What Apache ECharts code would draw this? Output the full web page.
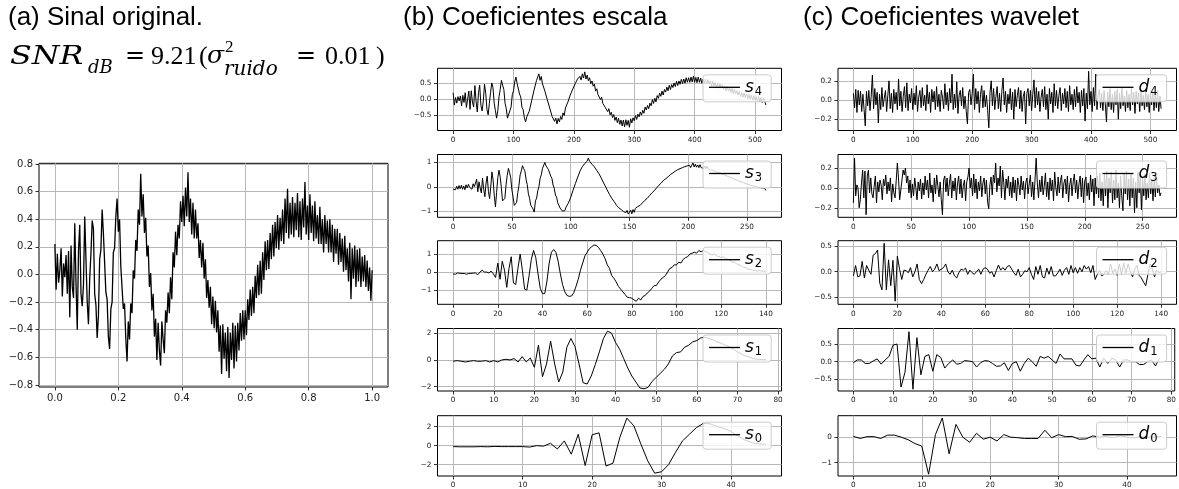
<!DOCTYPE html>
<html><head><meta charset="utf-8">
<script src="https://cdn.jsdelivr.net/npm/echarts@6/dist/echarts.min.js"></script>
<style>html,body{margin:0;padding:0;background:#fff}#c{width:1179px;height:489px}</style>
</head><body><div id="c"></div>
<script>
// ---------- data ----------
const signalValues = [
0.22,-0.11,0.15,-0.06,0.03,0.19,-0.16,0.08,-0.02,0.14,
-0.14,0.17,-0.31,0.21,-0.09,-0.17,0.37,-0.07,-0.4,0.17,
0.36,-0.14,-0.23,-0.07,0.42,0.11,-0.2,-0.36,-0.03,0.15,
0.39,0.33,-0.14,-0.22,-0.46,-0.3,0.11,0.18,0.47,0.3,
0.31,-0.13,-0.18,-0.45,-0.54,-0.25,-0.2,0.16,0.19,0.42,
0.55,0.31,0.4,0.06,0.06,-0.25,-0.21,-0.46,-0.63,-0.34,
-0.47,-0.21,-0.28,0.03,-0.03,0.25,0.17,0.47,0.36,0.73,
0.42,0.58,0.3,0.41,0.13,0.21,-0.09,0.01,-0.26,-0.14,
-0.45,-0.32,-0.62,-0.35,-0.55,-0.66,-0.34,-0.47,-0.57,-0.26,
-0.35,-0.13,-0.28,-0.02,-0.18,0.16,0.05,0.31,0.14,0.36,
0.26,0.53,0.38,0.57,0.35,0.63,0.42,0.74,0.38,0.55,
0.29,0.52,0.26,0.47,0.26,0.37,0.12,0.25,0.05,0.23,
-0.03,0.11,-0.17,-0.04,-0.24,-0.09,-0.36,-0.16,-0.39,-0.19,
-0.42,-0.26,-0.56,-0.37,-0.72,-0.36,-0.61,-0.42,-0.7,-0.38,
-0.75,-0.42,-0.62,-0.35,-0.68,-0.37,-0.63,-0.35,-0.55,-0.28,
-0.48,-0.26,-0.47,-0.26,-0.44,-0.18,-0.33,-0.11,-0.3,-0.09,
-0.28,-0.01,-0.17,0.07,-0.15,0.1,-0.14,0.16,-0.04,0.24,
0.03,0.25,0.04,0.3,0.11,0.36,0.13,0.38,0.19,0.43,
0.18,0.41,0.24,0.47,0.22,0.55,0.3,0.62,0.26,0.52,
0.29,0.56,0.27,0.52,0.32,0.59,0.27,0.53,0.25,0.55,
0.34,0.67,0.29,0.5,0.25,0.58,0.3,0.5,0.24,0.53,
0.26,0.43,0.22,0.49,0.22,0.4,0.16,0.43,0.22,0.39,
0.16,0.4,0.16,0.36,0.09,0.33,0.15,0.33,0.07,0.3,
0.09,0.26,0.02,0.28,0.03,0.19,-0.05,0.23,-0.18,0.19,
-0.03,0.21,-0.09,0.18,-0.05,0.19,-0.09,0.13,-0.05,0.14,
-0.09,0.1,-0.12,0.05,-0.19,0.03];
const signalTimeEnd = 1.0;

// scale coefficients s4 (every 2nd coefficient), s3, s2, s1, s0
const s4Values = [
0.2,-0.18,0.05,-0.12,0.08,-0.05,0.1,-0.2,0.12,-0.1,
0.2,-0.25,-0.22,0.25,-0.31,0.26,-0.09,-0.24,0.42,-0.06,
-0.39,0.2,0.43,-0.19,-0.36,-0.05,0.46,0.18,-0.31,-0.48,
-0.12,0.21,0.5,0.36,-0.12,-0.35,-0.58,-0.35,0.08,0.3,
0.58,0.43,0.3,-0.12,-0.29,-0.58,-0.62,-0.35,-0.24,0.14,
0.26,0.53,0.68,0.48,0.5,0.16,0.07,-0.25,-0.32,-0.57,
-0.7,-0.54,-0.6,-0.37,-0.35,-0.05,0.0,0.28,0.31,0.57,
0.54,0.78,0.58,0.7,0.47,0.5,0.25,0.25,-0.02,-0.02,
-0.27,-0.26,-0.53,-0.48,-0.68,-0.58,-0.76,-0.59,-0.7,-0.53,
-0.62,-0.42,-0.5,-0.27,-0.3,-0.09,-0.09,0.13,0.11,0.31,
0.27,0.47,0.43,0.62,0.56,0.7,0.59,0.78,0.65,0.84,
0.62,0.74,0.57,0.66,0.48,0.56,0.4,0.47,0.25,0.32,
0.14,0.2,-0.01,0.06,-0.13,-0.08,-0.25,-0.19,-0.38,-0.29,
-0.48,-0.4,-0.56,-0.47,-0.65,-0.55,-0.72,-0.59,-0.77,-0.64,
-0.82,-0.64,-0.85,-0.63,-0.8,-0.65,-0.86,-0.6,-0.73,-0.57,
-0.66,-0.5,-0.62,-0.46,-0.54,-0.39,-0.49,-0.34,-0.43,-0.24,
-0.33,-0.19,-0.29,-0.12,-0.2,-0.01,-0.13,0.03,-0.08,0.11,
0.03,0.19,0.09,0.25,0.13,0.3,0.22,0.37,0.26,0.43,
0.3,0.45,0.36,0.5,0.39,0.55,0.42,0.56,0.46,0.61,
0.48,0.62,0.49,0.66,0.52,0.66,0.52,0.68,0.53,0.71,
0.52,0.67,0.51,0.68,0.52,0.65,0.49,0.62,0.47,0.61,
0.47,0.6,0.46,0.56,0.41,0.55,0.41,0.51,0.38,0.49,
0.34,0.48,0.34,0.44,0.3,0.4,0.26,0.39,0.25,0.35,
0.21,0.33,0.17,0.31,0.17,0.26,0.13,0.24,0.09,0.21,
0.06,0.19,0.05,0.16,0.02,0.15,0.01,0.12,-0.03,0.11,
-0.03,0.08,-0.06,0.08,-0.08,0.05,-0.1,0.03,-0.05,-0.18];
const s4Step = 2;
const s3Values = [
-0.1,-0.05,-0.12,0.02,-0.1,0.05,-0.08,0.06,-0.1,0.03,
-0.12,0.08,-0.05,0.1,-0.02,0.06,-0.1,0.12,0.0,0.15,
0.3,-0.2,0.2,-0.05,-0.25,0.35,-0.1,-0.4,0.15,0.43,
-0.18,-0.48,-0.01,0.6,0.27,-0.36,-0.81,-0.22,0.37,0.67,
0.4,-0.03,-0.57,-0.62,-0.47,0.08,0.45,0.74,0.58,0.36,
-0.13,-0.42,-0.75,-0.71,-0.63,-0.23,0.06,0.48,0.64,0.85,
0.73,0.64,0.31,0.09,-0.28,-0.46,-0.74,-0.78,-0.9,-1.02,
-0.57,-0.46,-0.16,0.01,0.34,0.48,0.74,0.77,0.98,0.84,
0.89,0.7,0.66,0.43,0.34,0.07,-0.06,-0.33,-0.42,-0.65,
-0.68,-0.86,-0.86,-0.98,-0.91,-0.96,-0.82,-0.82,-0.66,-0.64,
-0.43,-0.37,-0.14,-0.08,0.13,0.18,0.39,0.44,0.64,0.66,
0.82,0.8,0.94,0.91,1.03,1.16,1.03,1.05,0.91,0.95,
0.81,0.82,0.67,0.69,0.53,0.53,0.35,0.33,0.15,0.15,
-0.02,-0.13,-0.13,-0.31,-0.32,-0.47,-0.45,-0.6,-0.6,-0.75,
-0.73,-0.85,-0.8,-0.92,-0.88,-1.0,-0.94,-1.04,-0.95,-1.1,
-1.03,-0.94,-1.09,-0.92,-1.03,-0.87,-0.93,-0.8,-0.86,-0.75,
-0.79,-0.65,-0.68,-0.55,-0.59,-0.47,-0.51,-0.36,-0.38,-0.25,
-0.29,-0.16,-0.19,-0.05,-0.07,0.06,0.02,0.15,0.11,0.26,
0.22,0.33,0.29,0.41,0.38,0.5,0.46,0.56,0.51,0.63,
0.57,0.69,0.63,0.73,0.66,0.77,0.71,0.81,0.74,0.84,
0.77,0.87,0.77,0.87,0.96,0.8,0.91,0.79,0.88,0.77,
0.89,0.77,0.85,0.74,0.83,0.73,0.83,0.72,0.79,0.68,
0.75,0.66,0.73,0.61,0.69,0.58,0.66,0.55,0.62,0.51,
0.59,0.48,0.54,0.43,0.5,0.39,0.47,0.36,0.42,0.31,
0.39,0.28,0.34,0.23,0.31,0.2,0.26,0.16,0.23,0.13,
0.2,0.09,0.16,0.07,0.14,0.03,0.11,0.02,0.09,-0.02,
0.06,-0.03,0.04,-0.05,0.02,-0.06,-0.15];
const s2Values = [
-0.1,-0.12,-0.05,-0.07,-0.08,-0.08,-0.12,-0.08,-0.07,-0.06,
-0.05,-0.15,0.0,0.1,0.0,0.0,-0.05,0.05,-0.1,-0.3,
0.5,-0.4,0.6,0.1,-0.85,0.2,0.85,-0.6,-0.7,0.2,
1.0,0.1,-0.95,-1.0,-0.2,0.7,1.2,0.8,-0.1,-0.9,
-1.2,-1.2,-0.5,0.5,1.1,1.25,1.1,0.6,-0.1,-0.7,
-1.1,-1.3,-1.35,-1.33,-1.15,-0.8,-0.4,0.1,0.5,0.9,
1.1,1.3,1.4,1.5,1.48,1.38,1.2,1.0,0.75,0.4,
0.2,-0.2,-0.35,-0.55,-0.8,-0.95,-1.1,-1.25,-1.4,-1.42,
-1.45,-1.55,-1.62,-1.45,-1.55,-1.35,-1.3,-1.15,-1.05,-0.9,
-0.75,-0.75,-0.55,-0.4,-0.3,-0.2,0.0,0.2,0.25,0.4,
0.4,0.55,0.5,0.7,0.8,0.85,1.0,1.05,1.1,1.05,
1.2,1.12,1.2,1.12,1.1,1.0,0.95,1.0,0.9,0.85,
0.8,0.85,0.75,0.7,0.65,0.55,0.55,0.45,0.4,0.35,
0.25,0.25,0.15,0.15,0.1,0.1,0.05,0.08,0.05,0.05,0.05];
const s1Values = [
-0.1,-0.05,-0.1,-0.15,-0.1,-0.05,-0.1,-0.1,-0.05,-0.15,
-0.05,-0.15,0.0,0.05,0.0,0.1,-0.15,0.25,-0.15,0.15,
-0.55,1.1,-1.25,-0.3,1.4,-0.3,-1.65,-0.9,0.95,1.6,
1.0,-0.3,-1.7,-1.8,-1.2,-0.35,0.6,1.6,2.15,2.0,
1.3,0.8,0.1,-0.6,-1.2,-1.65,-2.1,-2.15,-2.05,-1.6,
-1.3,-1.0,-0.7,-0.3,0.3,0.55,0.6,0.95,1.1,1.35,
1.45,1.65,1.7,1.6,1.5,1.35,1.25,1.1,1.0,0.8,
0.6,0.45,0.3,0.2,0.1,0.05,0.03,0.02];
const s0Values = [
-0.1,-0.12,-0.12,-0.12,-0.1,-0.12,-0.08,-0.1,-0.1,-0.1,
-0.1,-0.15,0.0,-0.05,0.25,-0.35,0.5,-0.9,1.2,-2.1,
1.15,1.35,-2.15,-1.85,0.9,2.9,2.1,0.2,-1.6,-2.9,
-2.75,-2.0,-0.7,0.5,1.2,1.9,2.35,2.3,2.0,1.8,
1.5,1.0,0.6,0.3,0.2,0.15];

// wavelet coefficients d4 (every 2nd coefficient), d3, d2, d1, d0
const d4Values = [
0.07,-0.08,0.11,-0.13,0.1,-0.05,0.09,-0.12,0.06,-0.1,
-0.27,0.09,-0.06,0.1,-0.11,0.04,0.26,-0.09,0.12,-0.05,
0.08,-0.24,0.06,-0.1,0.13,-0.07,0.02,0.1,-0.12,0.05,
0.2,-0.09,0.07,-0.13,0.11,-0.04,0.08,-0.1,0.22,-0.06,
0.09,-0.12,0.04,0.14,-0.08,0.18,-0.11,0.06,-0.03,0.12,
-0.1,0.07,-0.05,0.15,-0.12,0.03,0.1,-0.08,0.13,-0.06,
0.05,-0.11,0.16,-0.04,0.08,-0.13,0.11,-0.02,0.09,-0.1,
0.14,-0.07,0.06,-0.12,0.1,0.03,-0.09,0.17,-0.05,0.08,
-0.11,0.12,-0.03,0.27,-0.1,0.06,-0.08,0.19,-0.14,0.05,
0.1,-0.06,0.13,-0.09,0.04,-0.12,-0.25,0.08,0.11,-0.05,
0.07,0.27,-0.1,0.12,-0.04,0.09,-0.13,0.06,0.15,-0.08,
0.1,-0.07,0.05,-0.11,-0.29,0.08,0.2,-0.06,0.12,-0.1,
0.04,0.14,-0.09,0.07,-0.12,0.1,0.23,-0.05,0.09,-0.13,
0.06,-0.04,0.12,-0.1,0.08,-0.2,0.11,-0.07,0.05,0.13,
-0.09,0.1,-0.12,0.04,0.09,-0.25,0.07,0.12,-0.06,0.1,
-0.11,0.06,0.21,-0.08,0.13,-0.05,0.09,-0.12,0.03,0.11,
-0.07,0.14,-0.1,0.06,-0.2,0.12,-0.04,0.08,-0.13,0.17,
-0.06,0.1,-0.09,0.05,0.13,-0.11,0.07,-0.04,0.12,-0.08,
0.09,-0.12,0.15,-0.05,0.06,-0.1,0.11,-0.07,0.14,-0.03,
0.08,-0.13,0.1,-0.06,0.12,-0.22,0.07,-0.09,0.3,-0.05,
0.09,-0.12,0.13,-0.06,0.27,-0.1,0.05,0.11,-0.08,0.07,
-0.11,0.1,-0.04,-0.23,0.08,-0.07,0.12,-0.1,0.06,-0.13,
0.09,-0.05,0.11,-0.2,0.07,-0.09,0.13,-0.06,0.04,-0.12,
0.1,-0.08,0.06,-0.11,0.12,-0.05,0.08,-0.14,0.09,-0.04,
0.07,-0.12,0.1,-0.06,0.05,-0.1,0.11,-0.07,0.06,-0.13,
0.08,-0.05,0.09,-0.11,0.06,-0.08,0.1,-0.12,0.04,-0.09];
const d4Step = 2;
const d3Values = [
-0.15,0.3,-0.08,0.03,0.0,-0.2,-0.12,0.05,0.18,-0.1,
0.17,-0.27,0.12,0.18,-0.05,0.1,-0.06,-0.1,0.02,0.12,
-0.15,0.06,-0.04,0.08,0.03,-0.12,0.09,0.02,0.13,-0.06,
0.06,-0.03,0.1,-0.14,0.04,-0.05,-0.1,0.07,0.25,0.1,
-0.12,-0.1,0.08,0.18,0.13,0.2,0.05,0.12,-0.05,0.08,
-0.1,0.04,-0.08,0.1,0.0,-0.12,0.06,-0.03,0.09,-0.11,
0.05,-0.07,0.12,-0.02,0.08,-0.1,0.15,-0.05,0.03,-0.14,
0.1,-0.06,0.13,0.02,-0.09,0.06,-0.12,-0.27,0.08,0.12,
-0.04,0.1,-0.08,0.05,0.14,-0.1,0.07,-0.03,0.1,-0.12,
0.04,0.12,-0.06,0.09,-0.1,0.02,0.08,-0.13,0.06,0.11,
0.2,0.0,0.1,-0.08,0.14,-0.05,0.09,-0.11,0.06,-0.03,
0.12,-0.09,0.05,0.1,-0.06,0.08,-0.14,-0.21,0.03,0.11,
-0.07,0.13,0.05,0.25,-0.04,0.1,0.02,0.22,-0.1,0.18,
0.05,-0.12,0.09,0.0,0.12,-0.08,0.06,-0.1,0.11,-0.05,
0.08,-0.13,0.1,0.03,-0.07,0.12,-0.02,0.07,-0.11,0.05,
0.1,-0.06,0.04,0.13,-0.09,0.06,-0.12,0.08,0.3,0.05,
-0.1,0.08,-0.04,0.12,-0.07,0.02,0.15,-0.09,0.06,-0.12,
0.1,-0.03,0.08,-0.13,0.16,0.0,-0.08,0.11,-0.05,0.07,
0.13,-0.1,0.05,0.09,-0.06,0.12,-0.14,0.03,0.1,-0.08,
0.06,0.14,-0.05,0.08,-0.11,0.04,0.12,-0.09,0.1,-0.15,
0.07,0.11,-0.08,0.05,-0.12,0.13,-0.04,0.09,-0.18,0.1,
-0.06,0.12,-0.1,0.15,-0.13,0.06,-0.18,0.14,-0.08,0.17,
-0.2,0.1,-0.05,0.16,-0.15,0.08,-0.12,0.18,-0.1,0.05,
-0.2,0.12,-0.08,-0.23,0.14,-0.06,0.17,-0.12,0.09,-0.18,
0.15,-0.1,0.1,-0.25,0.06,-0.2,0.16,-0.05,0.12,-0.22,
0.1,-0.08,0.14,-0.12,0.05,-0.1,0.15,-0.06,0.08,-0.13,
0.1,-0.09,0.12,-0.05,0.03,-0.08,-0.05];
const d2Values = [
-0.08,0.12,-0.1,-0.08,0.2,-0.12,0.12,0.03,-0.05,0.32,
0.35,0.42,-0.22,-0.35,0.55,-0.35,0.23,-0.27,0.22,-0.57,
0.3,0.05,-0.15,0.03,0.02,-0.02,0.08,-0.1,0.0,0.15,
-0.15,-0.23,-0.15,-0.05,0.03,0.1,0.0,0.05,0.15,0.02,
0.05,0.08,0.15,0.0,-0.05,0.03,-0.08,-0.12,-0.02,0.05,
0.03,0.07,-0.05,0.03,-0.02,-0.05,0.0,0.05,-0.05,0.05,
0.08,0.05,-0.03,0.0,-0.1,0.02,0.13,0.03,0.08,0.03,
0.1,0.12,0.05,-0.02,-0.07,0.05,-0.1,-0.05,0.02,0.0,
0.08,-0.05,-0.15,0.1,-0.05,0.12,-0.1,-0.12,0.07,-0.05,
0.1,-0.08,-0.08,-0.02,0.05,-0.07,0.03,0.08,-0.05,0.12,
-0.02,0.08,-0.03,0.08,0.0,0.12,0.05,0.1,-0.02,0.12,
-0.15,-0.05,0.03,-0.08,-0.05,0.02,-0.05,0.15,-0.03,0.05,
-0.07,0.15,-0.05,0.17,-0.03,0.15,0.0,-0.1,0.05,0.12,
-0.07,-0.12,-0.2,-0.27,-0.05,0.15,0.05,-0.1,0.03,-0.02,0.0];
const d1Values = [
-0.03,0.05,0.05,-0.05,-0.05,0.02,0.08,-0.07,0.05,0.15,
0.47,0.5,-0.72,-0.3,0.85,-0.78,0.68,-0.37,0.15,0.2,
-0.27,0.2,0.12,-0.18,-0.05,0.05,-0.07,-0.05,0.03,0.02,
0.0,-0.15,-0.03,0.03,0.02,-0.05,-0.13,-0.12,-0.03,-0.25,
-0.05,0.0,-0.27,-0.05,0.1,0.0,-0.13,0.15,0.1,0.15,
0.05,-0.05,0.22,0.08,0.08,0.08,-0.1,-0.12,0.05,0.2,
0.08,0.1,-0.15,0.1,-0.05,0.1,0.05,-0.15,0.05,0.05,
0.0,0.0,-0.08,-0.08,0.0,0.05,-0.12,0.1];
const d0Values = [
0.03,-0.05,0.02,0.02,-0.05,0.08,0.08,0.0,-0.1,-0.25,
-0.35,-1.45,0.1,0.75,-0.65,0.5,0.0,-0.2,0.15,-0.08,
0.0,-0.15,0.1,0.0,-0.02,-0.05,-0.05,-0.05,0.27,-0.02,
0.1,0.02,0.03,-0.08,-0.07,0.05,0.0,0.03,-0.02,0.05,
0.0,-0.03,0.02,0.0,0.01,0.02];

// coefficient counts (last index = count - 1)
const coefCounts = {s4:519, s3:267, s2:141, s1:78, s0:46};

// tick labels
const xTicksSignal = [0,0.2,0.4,0.6,0.8,1.0];
const yTicksSignal = [-0.8,-0.6,-0.4,-0.2,0,0.2,0.4,0.6,0.8];
const xTicks4 = [0,100,200,300,400,500];
const xTicks3 = [0,50,100,150,200,250];
const xTicks2 = [0,20,40,60,80,100,120,140];
const xTicks1 = [0,10,20,30,40,50,60,70,80];
const xTicks0 = [0,10,20,30,40];
const yTicksS4 = [-0.5,0,0.5];
const yTicksS3 = [-1,0,1];
const yTicksS2 = [-1,0,1];
const yTicksS1 = [-2,0,2];
const yTicksS0 = [-2,0,2];
const yTicksD4 = [-0.2,0,0.2];
const yTicksD3 = [-0.2,0,0.2];
const yTicksD2 = [-0.5,0,0.5];
const yTicksD1 = [-0.5,0,0.5];
const yTicksD0 = [-1,0];

// ---------- layout ----------
const colB = {left:437.5, width:344};
const colC = {left:838, width:338.5};
const rows = [[68.3,62.2],[154.5,62.8],[240.7,63.6],[328.5,62.5],[415.7,62]];

function fmt(v, dec){ const s = Math.abs(v).toFixed(dec); return (v < -1e-9 ? '\u2212' : '') + s; }
function pairs(vals, step){ return vals.map((v,i)=>[i*step, v]); }

const panels = [
 {name:'signal', data: pairs(signalValues, signalTimeEnd/(signalValues.length-1)), box:[39,163.3,349,223.7],
  xr:[-0.05,1.05], yr:[-0.815,0.805], xt:xTicksSignal, yt:yTicksSignal, xd:1, yd:1, fs:10, lw:1.3, legend:false},
 {name:'s4', data: pairs(s4Values, s4Step), col:colB, row:0, n:coefCounts.s4, yr:[-0.96,0.95], xt:xTicks4, yt:yTicksS4, xd:0, yd:1},
 {name:'s3', data: pairs(s3Values, 1), col:colB, row:1, n:coefCounts.s3, yr:[-1.23,1.3], xt:xTicks3, yt:yTicksS3, xd:0, yd:0},
 {name:'s2', data: pairs(s2Values, 1), col:colB, row:2, n:coefCounts.s2, yr:[-1.79,1.74], xt:xTicks2, yt:yTicksS2, xd:0, yd:0},
 {name:'s1', data: pairs(s1Values, 1), col:colB, row:3, n:coefCounts.s1, yr:[-2.32,2.35], xt:xTicks1, yt:yTicksS1, xd:0, yd:0},
 {name:'s0', data: pairs(s0Values, 1), col:colB, row:4, n:coefCounts.s0, yr:[-3.2,3.16], xt:xTicks0, yt:yTicksS0, xd:0, yd:0},
 {name:'d4', data: pairs(d4Values, d4Step), col:colC, row:0, n:coefCounts.s4, yr:[-0.318,0.331], xt:xTicks4, yt:yTicksD4, xd:0, yd:1},
 {name:'d3', data: pairs(d3Values, 1), col:colC, row:1, n:coefCounts.s3, yr:[-0.296,0.336], xt:xTicks3, yt:yTicksD3, xd:0, yd:1},
 {name:'d2', data: pairs(d2Values, 1), col:colC, row:2, n:coefCounts.s2, yr:[-0.63,0.6], xt:xTicks2, yt:yTicksD2, xd:0, yd:1},
 {name:'d1', data: pairs(d1Values, 1), col:colC, row:3, n:coefCounts.s1, yr:[-0.83,0.94], xt:xTicks1, yt:yTicksD1, xd:0, yd:1},
 {name:'d0', data: pairs(d0Values, 1), col:colC, row:4, n:coefCounts.s0, yr:[-1.52,0.84], xt:xTicks0, yt:yTicksD0, xd:0, yd:0}
];

const grids=[], xAxes=[], yAxes=[], series=[], legends=[];
panels.forEach((p, i) => {
  let box, xr;
  if (p.box) { box = p.box; xr = p.xr; }
  else {
    box = [p.col.left, rows[p.row][0], p.col.width, rows[p.row][1]];
    const m = p.n - 1; xr = [-0.05*m, 1.05*m];
  }
  const fs = p.fs || 7.3;
  grids.push({left:box[0], top:box[1], width:box[2], height:box[3], show:true,
    borderColor:'#000', borderWidth:1, backgroundColor:'#fff', containLabel:false});
  const tickStyle = {show:true, length:3.5, inside:false, lineStyle:{color:'#000', width:0.8}};
  const labStyle = {color:'#222', fontFamily:'DejaVu Sans', fontSize:fs};
  xAxes.push({type:'value', gridIndex:i, min:xr[0], max:xr[1],
    axisLine:{show:false, onZero:false},
    axisTick:Object.assign({customValues:p.xt}, tickStyle),
    axisLabel:Object.assign({customValues:p.xt, margin:6, formatter:v=>fmt(v,p.xd)}, labStyle),
    splitLine:{show:true, lineStyle:{color:'#b8b8b8', width:1}}});
  yAxes.push({type:'value', gridIndex:i, min:p.yr[0], max:p.yr[1],
    axisLine:{show:false, onZero:false},
    axisTick:Object.assign({customValues:p.yt}, tickStyle),
    axisLabel:Object.assign({customValues:p.yt, margin:6, formatter:v=>fmt(v,p.yd)}, labStyle),
    splitLine:{show:true, lineStyle:{color:'#b8b8b8', width:1}}});
  series.push({type:'line', name:p.name, xAxisIndex:i, yAxisIndex:i, data:p.data,
    showSymbol:false, symbol:'none', clip:true, silent:true, animation:false,
    lineStyle:{color:'#000', width:p.lw||1}, itemStyle:{color:'#000'}});
  if (p.legend !== false) {
    legends.push({data:[p.name], left: box[0]+box[2]-(p.col===colB?78.5:80), top: box[1]+6.5,
      orient:'horizontal', icon:'rect', itemWidth:31, itemHeight:1.3,
      padding:[4,9,4,6], backgroundColor:'rgba(255,255,255,0.8)', borderColor:'#cccccc', borderWidth:1, borderRadius:3,
      selectedMode:false,
      formatter: nm => '{v|' + nm[0] + '}{sub|' + nm[1] + '}',
      textStyle:{color:'#000', rich:{
        v:{fontFamily:'DejaVu Sans', fontStyle:'italic', fontSize:17, color:'#000'},
        sub:{fontFamily:'DejaVu Sans', fontSize:11.5, color:'#000', padding:[9,0,0,1]}}}});
  }
});

// ---------- titles ----------
const sans = '"Liberation Sans"';
const graphics = [
  {type:'text', left:8, top:5, style:{text:'(a) Sinal original.', font:'26px '+sans, fill:'#000'}},
  {type:'text', left:403, top:5, style:{text:'(b) Coeficientes escala', font:'26px '+sans, fill:'#000'}},
  {type:'text', left:803, top:5, style:{text:'(c) Coeficientes wavelet', font:'26px '+sans, fill:'#000'}},
  // SNR_dB = 9.21 (sigma^2_ruido = 0.01)
  {type:'text', x:10, y:44, scaleX:1.22, style:{text:'SNR', font:'italic 26px "DejaVu Serif"', fill:'#000'}},
  {type:'text', x:88, y:59, style:{text:'dB', font:'italic 18px "DejaVu Serif"', fill:'#000'}},
  {type:'text', x:125, y:45, style:{text:'=', font:'24px "DejaVu Serif"', fill:'#000'}},
  {type:'text', x:151, y:44, style:{text:'9.21', font:'26px "Liberation Serif"', fill:'#000'}},
  {type:'text', x:199, y:44, style:{text:'(', font:'26px "Liberation Serif"', fill:'#000'}},
  {type:'text', x:207, y:44, style:{text:'\u03c3', font:'italic 25px "DejaVu Serif"', fill:'#000'}},
  {type:'text', x:225, y:39, style:{text:'2', font:'17px "Liberation Serif"', fill:'#000'}},
  {type:'text', x:224, y:60, style:{text:'ruido', font:'italic 20px "DejaVu Serif"', fill:'#000'}},
  {type:'text', x:296, y:45, style:{text:'=', font:'24px "DejaVu Serif"', fill:'#000'}},
  {type:'text', x:325, y:44, style:{text:'0.01', font:'26px "Liberation Serif"', fill:'#000'}},
  {type:'text', x:376, y:44, style:{text:')', font:'26px "Liberation Serif"', fill:'#000'}}
];

const chart = echarts.init(document.getElementById('c'), null, {renderer:'canvas'});
chart.setOption({animation:false, backgroundColor:'#fff', grid:grids, xAxis:xAxes, yAxis:yAxes,
  series:series, legend:legends, graphic:graphics});
</script>
</body></html>
